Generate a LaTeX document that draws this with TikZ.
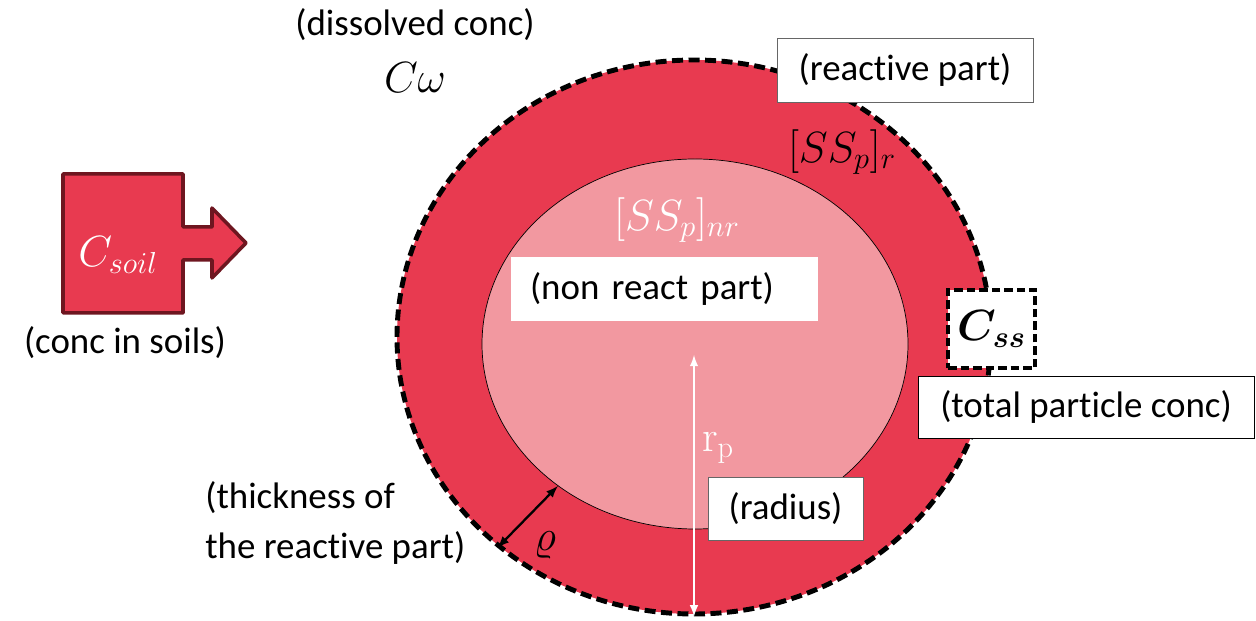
\documentclass[tikz,border=0pt]{standalone}
\usepackage[no-math]{fontspec}
\setmainfont{Carlito}[Ligatures=NoCommon]
\usepackage{amsmath}
\usepackage{bm}
\usetikzlibrary{shapes,arrows}
\definecolor{soilred}{RGB}{232,58,80}
\definecolor{corepink}{RGB}{242,152,160}
\definecolor{darkrim}{RGB}{110,22,32}

\begin{document}
\begin{tikzpicture}[font=\fontsize{21}{28.5}\selectfont]
    \tikzstyle{tag} = [draw=gray!80!black, fill=white, inner sep=0pt, minimum height=1.28cm]
    \tikzstyle{bigmath} = [font=\fontsize{26}{30}\selectfont]
    \useasboundingbox (0,0) rectangle (25.12,12.42);

    % particle
    \node[ellipse, fill=soilred, draw=black, line width=2.8pt, dash pattern=on 0.22cm off 0.11cm, minimum width=11.88cm, minimum height=11.08cm, inner sep=0pt] (outer) at (13.88,5.68) {};
    \node[ellipse, fill=corepink, draw=black, thin, minimum width=8.52cm, minimum height=7.40cm, inner sep=0pt] (inner) at (13.90,5.54) {};

    \node (dissolved) at (8.30,11.92) {(dissolved conc)};
    \node[bigmath] (cw) at (8.30,10.86) {$C\omega$};
    \node[tag, minimum width=5.12cm] (reactive) at (18.10,11.02) {(reactive part)};
    \node[bigmath] (ssr) at (16.84,9.38) {$[SS_p]_r$};
    \node[bigmath, text=white] (ssnr) at (13.54,8.02) {$[SS_p]_{nr}$};
    \node[fill=white, minimum height=1.28cm, text width=5.38cm, inner xsep=0.38cm, align=left] (nonreact) at (13.29,6.64) {(non react part)};

    \coordinate (rtop) at (13.88,5.32);
    \draw[white, line width=1.2pt, latex-latex] (rtop) -- (outer.south);
    \node[bigmath, text=white] (rp) at (14.36,3.46) {$\mathrm{r}_\mathrm{p}$};
    \node[tag, minimum width=3.10cm, minimum height=1.26cm] (radius) at (15.71,2.25) {(radius)};

    \node[draw, fill=white, line width=2pt, dash pattern=on 0.17cm off 0.08cm, minimum width=1.74cm, minimum height=1.56cm, bigmath] (css) at (19.83,5.84) {$\bm{C_{ss}}$};
    \node[draw=black, fill=white, minimum width=6.72cm, minimum height=1.24cm] (total) at (21.72,4.28) {(total particle conc)};

    % thickness
    \draw[latex-latex, line width=1.3pt] (outer.227) -- (inner.226);
    \node[font=\fontsize{30}{30}\selectfont] (rho) at (10.90,1.52) {$\varrho$};
    \node[align=left, anchor=west, inner sep=0pt] (thick) at (4.10,1.96) {(thickness of\\the reactive part)};

    % soil source
    \filldraw[fill=soilred, draw=darkrim, line width=2pt, line join=round] (1.26,8.94) -- (3.66,8.94) -- (3.66,7.88) -- (4.24,7.88) -- (4.24,8.26) -- (4.92,7.56) -- (4.24,6.86) -- (4.24,7.22) -- (3.66,7.22) -- (3.66,6.16) -- (1.26,6.16) -- cycle;
    \node[bigmath, text=white] (csoil) at (2.36,7.32) {$C_{soil}$};
    \node (soils) at (2.50,5.56) {(conc in soils)};
\end{tikzpicture}
\end{document}
